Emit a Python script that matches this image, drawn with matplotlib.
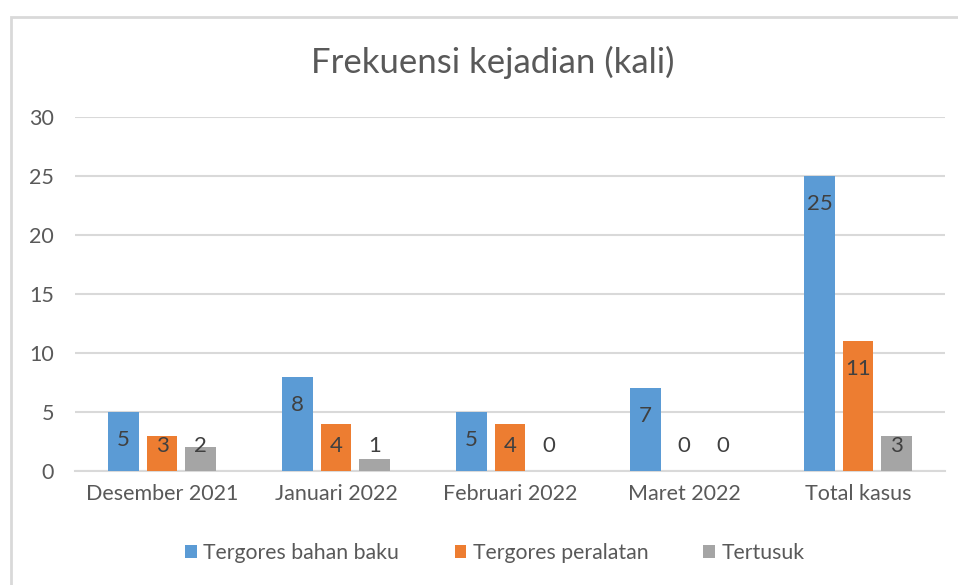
import matplotlib
matplotlib.use("Agg")
import matplotlib.pyplot as plt
from matplotlib.patches import Rectangle
import numpy as np

categories = ["Desember 2021", "Januari 2022", "Februari 2022", "Maret 2022", "Total kasus"]
series_names = ["Tergores bahan baku", "Tergores peralatan", "Tertusuk"]
bahan_baku = [5, 8, 5, 7, 25]
peralatan = [3, 4, 4, 0, 11]
tertusuk = [2, 1, 0, 0, 3]
yticks = [0, 5, 10, 15, 20, 25, 30]
colors = ["#5B9BD5", "#ED7D31", "#A5A5A5"]

plt.rcParams['font.family'] = ['Lato', 'DejaVu Sans']
txt = "#595959"

W, H = 958, 585
fig = plt.figure(figsize=(W / 100, H / 100), dpi=100)
fig.patches.append(Rectangle((11 / W, 0 - 0.05), 1.1, 1 - 16.5 / H + 0.05,
                             transform=fig.transFigure, fill=False,
                             edgecolor="#D9D9D9", linewidth=2, zorder=0))

ax = fig.add_axes([75 / W, 1 - 471 / H, 870 / W, (471 - 117) / H])
x = np.arange(len(categories))
bw = 0.178
off = 0.221
ppu = (471 - 117) / 30.0
for i, (vals, c) in enumerate(zip([bahan_baku, peralatan, tertusuk], colors)):
    xs = x + (i - 1) * off
    ax.bar(xs, vals, width=bw, color=c, label=series_names[i], zorder=3)
    for xi, v in zip(xs, vals):
        ly = max(v - 28 / ppu, 25 / ppu)
        ax.text(xi, ly, str(v), ha="center", va="center", fontsize=16, color="#404040", zorder=4)

ax.set_xlim(-0.5, len(categories) - 0.5)
ax.set_ylim(0, 30)
ax.set_yticks(yticks)
ax.set_yticklabels([str(t) for t in yticks])
ax.set_xticks(x)
ax.set_xticklabels(categories)
ax.tick_params(axis="both", length=0, labelsize=15.5, colors=txt)
ax.tick_params(axis="y", pad=15)
ax.tick_params(axis="x", pad=9)
ax.grid(axis="y", color="#D9D9D9", linewidth=1.5, zorder=0)
for s in ["top", "right", "left"]:
    ax.spines[s].set_visible(False)
ax.spines["bottom"].set_color("#D9D9D9")
ax.spines["bottom"].set_linewidth(1.5)

fig.text(493 / W, 1 - 62 / H, "Frekuensi kejadian (kali)", ha="center", va="center",
         fontsize=25, color=txt)

leg = fig.legend(loc="center", bbox_to_anchor=(495 / W, 1 - 553 / H), ncol=3, frameon=False,
                 fontsize=15.3, handlelength=0.55, handleheight=0.55, handletextpad=0.3,
                 columnspacing=2.6)
for t in leg.get_texts():
    t.set_color(txt)

fig.savefig("out.png", dpi=100)
